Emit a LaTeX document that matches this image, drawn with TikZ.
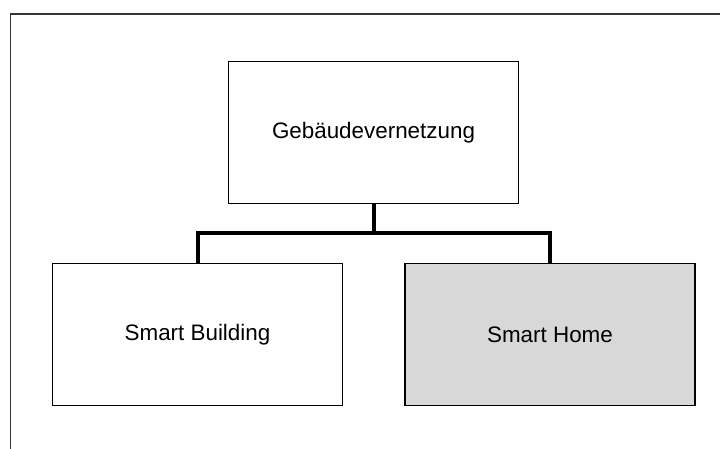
\documentclass[tikz,border=0pt]{standalone}
\usepackage{fontspec}
\setmainfont{Liberation Sans}
\usetikzlibrary{positioning}

\definecolor{boxgray}{HTML}{D8D8D8}
\definecolor{framegray}{HTML}{333333}

\begin{document}
\begin{tikzpicture}[x=1pt,y=-1pt,
    box/.style={draw=black,line width=1.6pt,minimum width=290pt,minimum height=142pt,
      inner sep=0pt,font=\fontsize{22.4}{27}\selectfont},
    link/.style={line width=4pt,line join=miter}]
  \useasboundingbox (0,0) rectangle (720,448);
  \clip (0,0) rectangle (720,448);
  \draw[framegray,line width=1.8pt] (10.5,14) rectangle (760,480);

  \node[box] (netz) at (373.5,132.5) {Gebäudevernetzung};
  \node[box] (building) at (197.5,334.5) {Smart Building};
  \node[box,fill=boxgray] (home) at (550,334.5) {Smart Home};

  \draw[link] (netz.south) -- ++(0,29) -| (building.north);
  \draw[link] (netz.south) -- ++(0,29) -| (home.north);
\end{tikzpicture}
\end{document}
